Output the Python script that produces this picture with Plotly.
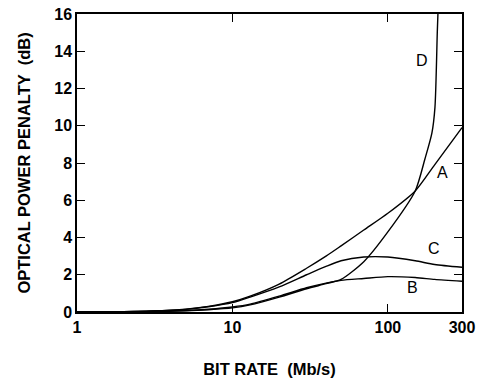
import numpy as np
import plotly.graph_objects as go

# Bit rate (Mb/s) sample points
bit_rate = [1, 2, 3, 5, 7, 10, 13, 20, 30, 40, 50, 70, 100, 150, 200, 300]
penalty_a = [0, 0.02, 0.05, 0.15, 0.3, 0.55, 0.85, 1.5, 2.35, 3.0, 3.55, 4.4, 5.3, 6.5, 7.9, 9.9]
penalty_c = [0, 0.02, 0.05, 0.14, 0.28, 0.5, 0.8, 1.35, 2.0, 2.45, 2.75, 2.95, 2.95, 2.75, 2.55, 2.4]
penalty_b = [0, 0.01, 0.03, 0.08, 0.15, 0.27, 0.42, 0.85, 1.3, 1.55, 1.7, 1.8, 1.9, 1.85, 1.75, 1.65]

bit_rate_d = [1, 2, 3, 5, 7, 10, 13, 20, 30, 40, 50, 70, 100, 150, 173, 192, 201, 208, 211]
penalty_d = [0, 0.01, 0.02, 0.06, 0.12, 0.22, 0.38, 0.8, 1.25, 1.52, 1.75, 2.7, 4.3, 6.5, 8.2, 9.6, 11.0, 15.0, 16.5]

curve_labels = ["A", "B", "C", "D"]
label_x = [226, 145, 198, 166]
label_y = [7.5, 1.3, 3.4, 13.5]

FONT = "Liberation Sans, Arial, sans-serif"

fig = go.Figure()
line_style = dict(color="black", width=1.4, shape="spline", smoothing=0.7)
for xs, ys in [(bit_rate, penalty_a), (bit_rate, penalty_b), (bit_rate, penalty_c), (bit_rate_d, penalty_d)]:
    fig.add_trace(go.Scatter(x=xs, y=ys, mode="lines", line=line_style,
                             showlegend=False, hoverinfo="skip", cliponaxis=True))

for name, lx, ly in zip(curve_labels, label_x, label_y):
    fig.add_annotation(x=np.log10(lx), y=ly, text=name, showarrow=False,
                       font=dict(family=FONT, size=16, color="black"))

fig.update_layout(
    width=482, height=379,
    margin=dict(l=77, r=20, t=14, b=67),
    paper_bgcolor="white", plot_bgcolor="white",
    font=dict(family=FONT, color="black"),
)
fig.update_xaxes(
    type="log", range=[0, np.log10(300)], automargin=False,
    tickvals=[1, 10, 100, 300], ticktext=["<b>1</b>", "<b>10</b>", "<b>100</b>", "<b>300</b>"],
    ticks="inside", ticklen=8, tickwidth=1.3, tickcolor="black",
    showline=True, linecolor="black", linewidth=1.5, mirror="ticks",
    showgrid=False, zeroline=False,
    tickfont=dict(family=FONT, size=16, color="black"),
    title=dict(text="<b>BIT RATE  (Mb/s)</b>", font=dict(family=FONT, size=16.5, color="black"), standoff=28),
)
fig.update_yaxes(
    range=[0, 16], automargin=False,
    tickvals=list(range(0, 17, 2)), ticktext=[f"<b>{v}</b>" for v in range(0, 17, 2)],
    ticks="inside", ticklen=8, tickwidth=1.3, tickcolor="black",
    showline=True, linecolor="black", linewidth=1.5, mirror="ticks",
    showgrid=False, zeroline=False,
    tickfont=dict(family=FONT, size=16, color="black"),
    title=dict(text="<b>OPTICAL POWER PENALTY  (dB)</b>", font=dict(family=FONT, size=16.5, color="black"), standoff=19),
)

fig.write_html("out.html")
